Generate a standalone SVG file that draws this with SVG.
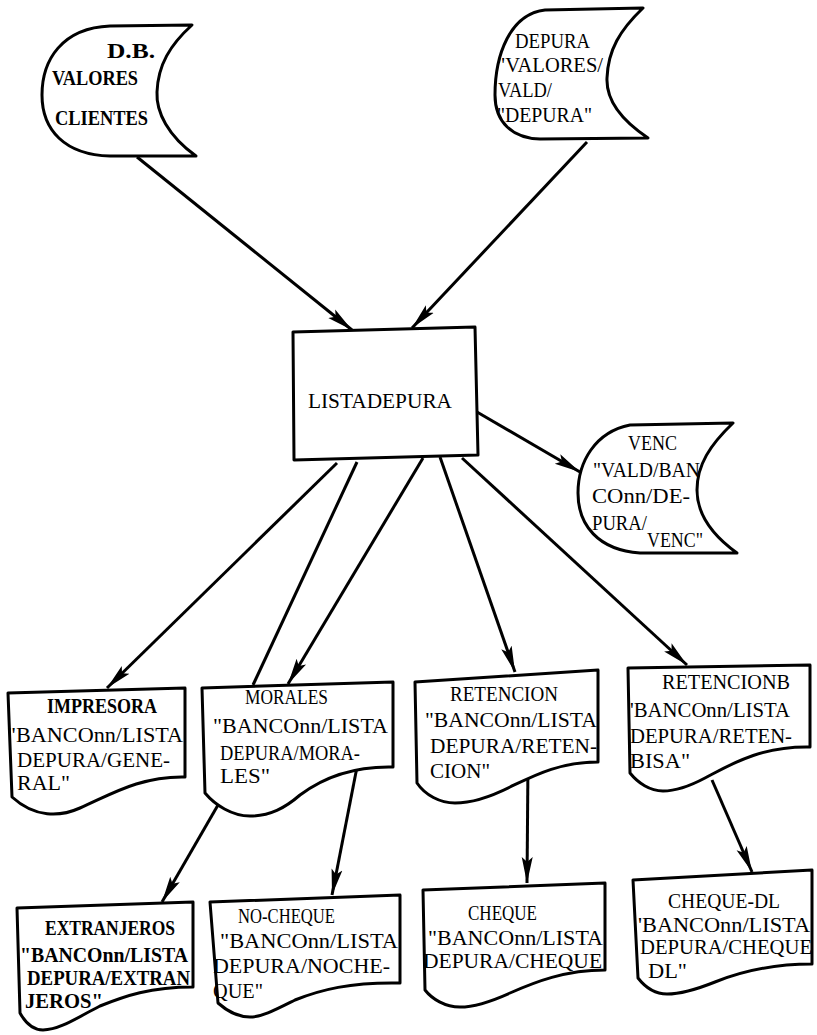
<svg xmlns="http://www.w3.org/2000/svg" width="817" height="1035" viewBox="0 0 817 1035">
<style>
.shape{fill:#fff;stroke:#000;stroke-width:3;stroke-linejoin:round}
.con{stroke:#000;stroke-width:3;fill:none}
.t{font-family:"Liberation Serif","DejaVu Serif",serif;font-size:20px;font-weight:normal;fill:#000}
.s{font-family:"Liberation Serif","DejaVu Serif",serif;font-size:20px;font-weight:normal;fill:#000}
.b{font-weight:bold}
</style>
<defs>
<marker id="ah" markerWidth="28" markerHeight="14" refX="26" refY="7" orient="auto" markerUnits="userSpaceOnUse">
<path d="M0,1.5 L26,7 L0,12.5 L5,7 Z" fill="#000"/>
</marker>
</defs>
<rect width="817" height="1035" fill="#fff"/>

<g id="connectors">
<line class="con" x1="137" y1="157" x2="352" y2="330" marker-end="url(#ah)"/>
<line class="con" x1="587" y1="142" x2="412" y2="328" marker-end="url(#ah)"/>
<line class="con" x1="477" y1="412" x2="580" y2="472" marker-end="url(#ah)"/>
<line class="con" x1="337" y1="463" x2="107" y2="688" marker-end="url(#ah)"/>
<line class="con" x1="357" y1="462" x2="253" y2="685"/>
<line class="con" x1="423" y1="458" x2="288" y2="684" marker-end="url(#ah)"/>
<line class="con" x1="440" y1="457" x2="515" y2="672" marker-end="url(#ah)"/>
<line class="con" x1="462" y1="458" x2="687" y2="665" marker-end="url(#ah)"/>
<line class="con" x1="218" y1="805" x2="162" y2="902" marker-end="url(#ah)"/>
<line class="con" x1="357" y1="767" x2="332" y2="895" marker-end="url(#ah)"/>
<line class="con" x1="528" y1="762" x2="527" y2="883" marker-end="url(#ah)"/>
<line class="con" x1="712" y1="780" x2="752" y2="872" marker-end="url(#ah)"/>
</g>

<g id="db-valores-clientes">
<path class="shape" d="M192,25 L110,26 C62,28 42,60 42,95 C42,130 65,155 110,156 L196,156 C168,136 156,112 157,92 C158,65 170,45 192,25 Z"/>
<text class="s b" x="107" y="58" textLength="48" lengthAdjust="spacingAndGlyphs">D.B.</text>
<text class="s b" x="52" y="85" textLength="86" lengthAdjust="spacingAndGlyphs">VALORES</text>
<text class="s b" x="55" y="125" textLength="93" lengthAdjust="spacingAndGlyphs">CLIENTES</text>
</g>

<g id="depura-valores">
<path class="shape" d="M643,8 L545,10 C510,14 495,55 495,95 C495,122 512,138 540,139 L648,138 C621,120 606,100 607,78 C608,50 620,30 643,8 Z"/>
<text class="s" x="515" y="48" textLength="75" lengthAdjust="spacingAndGlyphs">DEPURA</text>
<text class="s" x="497" y="72" textLength="106" lengthAdjust="spacingAndGlyphs">"VALORES/</text>
<text class="s" x="498" y="97" textLength="54" lengthAdjust="spacingAndGlyphs">VALD/</text>
<text class="s" x="497" y="122" textLength="95" lengthAdjust="spacingAndGlyphs">"DEPURA"</text>
</g>

<g id="listadepura">
<path class="shape" d="M293,332 L475,327 L478,455 L294,460 Z"/>
<text class="t" x="308" y="408" textLength="144" lengthAdjust="spacingAndGlyphs" style="font-size:22px">LISTADEPURA</text>
</g>

<g id="venc">
<path class="shape" d="M733,423 L630,425 C595,432 578,462 578,493 C578,525 598,550 640,553 L737,553 C712,535 697,515 697,490 C697,465 710,445 733,423 Z"/>
<text class="s" x="628" y="450" textLength="49" lengthAdjust="spacingAndGlyphs">VENC</text>
<text class="s" x="593" y="477" textLength="107" lengthAdjust="spacingAndGlyphs">"VALD/BAN</text>
<text class="s" x="592" y="503" textLength="98" lengthAdjust="spacingAndGlyphs">COnn/DE-</text>
<text class="s" x="592" y="530" textLength="55" lengthAdjust="spacingAndGlyphs">PURA/</text>
<text class="s" x="647" y="547" textLength="56" lengthAdjust="spacingAndGlyphs">VENC"</text>
</g>

<g id="impresora">
<path class="shape" d="M8,693 L185,688 L185,777 C140,776 110,795 80,808 C60,817 35,818 12,797 Z"/>
<text class="t b" x="47" y="713" textLength="110" lengthAdjust="spacingAndGlyphs">IMPRESORA</text>
<text class="t" x="7" y="742" textLength="176" lengthAdjust="spacingAndGlyphs">"BANCOnn/LISTA</text>
<text class="t" x="17" y="767" textLength="153" lengthAdjust="spacingAndGlyphs">DEPURA/GENE-</text>
<text class="t" x="17" y="790" textLength="53" lengthAdjust="spacingAndGlyphs">RAL"</text>
</g>

<g id="morales">
<path class="shape" d="M202,688 L393,682 L393,767 C350,766 320,780 300,795 C285,808 270,816 250,816 C232,816 215,805 205,793 Z"/>
<text class="t" x="245" y="704" textLength="83" lengthAdjust="spacingAndGlyphs">MORALES</text>
<text class="t" x="213" y="733" textLength="175" lengthAdjust="spacingAndGlyphs">"BANCOnn/LISTA</text>
<text class="t" x="220" y="760" textLength="140" lengthAdjust="spacingAndGlyphs">DEPURA/MORA-</text>
<text class="t" x="220" y="783" textLength="50" lengthAdjust="spacingAndGlyphs">LES"</text>
</g>

<g id="retencion">
<path class="shape" d="M415,682 L598,670 L598,762 C560,762 535,775 510,787 C490,797 470,803 455,803 C440,803 425,795 417,783 Z"/>
<text class="t" x="450" y="701" textLength="108" lengthAdjust="spacingAndGlyphs">RETENCION</text>
<text class="t" x="425" y="727" textLength="172" lengthAdjust="spacingAndGlyphs">"BANCOnn/LISTA</text>
<text class="t" x="430" y="753" textLength="167" lengthAdjust="spacingAndGlyphs">DEPURA/RETEN-</text>
<text class="t" x="430" y="778" textLength="60" lengthAdjust="spacingAndGlyphs">CION"</text>
</g>

<g id="retencionb">
<path class="shape" d="M628,668 L810,665 L810,747 C760,746 730,765 705,778 C690,786 675,791 663,791 C650,791 638,783 630,773 Z"/>
<text class="t" x="662" y="689" textLength="128" lengthAdjust="spacingAndGlyphs">RETENCIONB</text>
<text class="t" x="630" y="717" textLength="160" lengthAdjust="spacingAndGlyphs">'BANCOnn/LISTA</text>
<text class="t" x="630" y="743" textLength="162" lengthAdjust="spacingAndGlyphs">DEPURA/RETEN-</text>
<text class="t" x="630" y="768" textLength="60" lengthAdjust="spacingAndGlyphs">BISA"</text>
</g>

<g id="extranjeros">
<path class="shape" d="M17,908 L193,902 L193,987 C150,987 125,996 100,1006 C80,1016 60,1030 43,1030 C33,1030 25,1022 20,1013 Z"/>
<text class="t b" x="45" y="935" textLength="130" lengthAdjust="spacingAndGlyphs">EXTRANJEROS</text>
<text class="t b" x="20" y="962" textLength="168" lengthAdjust="spacingAndGlyphs">"BANCOnn/LISTA</text>
<text class="t b" x="27" y="985" textLength="163" lengthAdjust="spacingAndGlyphs">DEPURA/EXTRAN</text>
<text class="t b" x="25" y="1008" textLength="78" lengthAdjust="spacingAndGlyphs">JEROS"</text>
</g>

<g id="no-cheque">
<path class="shape" d="M210,902 L400,895 L400,983 C350,982 320,990 295,1000 C275,1010 262,1017 250,1017 C238,1017 226,1010 218,1003 Z"/>
<text class="t" x="238" y="923" textLength="97" lengthAdjust="spacingAndGlyphs">NO-CHEQUE</text>
<text class="t" x="220" y="948" textLength="178" lengthAdjust="spacingAndGlyphs">"BANCOnn/LISTA</text>
<text class="t" x="213" y="973" textLength="177" lengthAdjust="spacingAndGlyphs">DEPURA/NOCHE-</text>
<text class="t" x="213" y="998" textLength="50" lengthAdjust="spacingAndGlyphs">QUE"</text>
</g>

<g id="cheque">
<path class="shape" d="M423,890 L605,883 L605,970 C565,970 535,982 510,993 C490,1002 475,1007 460,1007 C445,1007 432,999 425,990 Z"/>
<text class="t" x="468" y="920" textLength="69" lengthAdjust="spacingAndGlyphs">CHEQUE</text>
<text class="t" x="428" y="945" textLength="175" lengthAdjust="spacingAndGlyphs">"BANCOnn/LISTA</text>
<text class="t" x="423" y="968" textLength="179" lengthAdjust="spacingAndGlyphs">DEPURA/CHEQUE</text>
</g>

<g id="cheque-dl">
<path class="shape" d="M633,880 L812,870 L812,964 C770,964 740,972 715,982 C695,990 680,994 667,994 C655,994 645,987 638,978 Z"/>
<text class="t" x="668" y="908" textLength="112" lengthAdjust="spacingAndGlyphs">CHEQUE-DL</text>
<text class="t" x="638" y="932" textLength="172" lengthAdjust="spacingAndGlyphs">'BANCOnn/LISTA</text>
<text class="t" x="640" y="954" textLength="172" lengthAdjust="spacingAndGlyphs">DEPURA/CHEQUE</text>
<text class="t" x="648" y="978" textLength="39" lengthAdjust="spacingAndGlyphs">DL"</text>
</g>
</svg>
